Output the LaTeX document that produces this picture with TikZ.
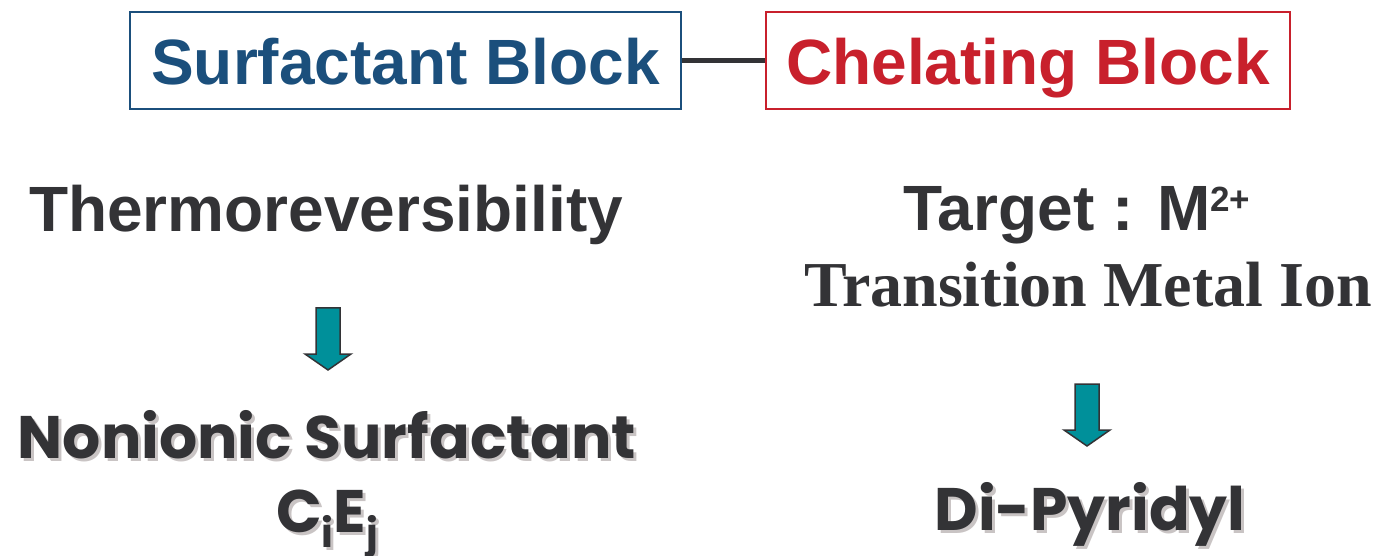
\documentclass[tikz,border=0pt]{standalone}
\usepackage{fontspec}
\setmainfont{Liberation Sans}
\newfontfamily\timesb{Liberation Serif}
\newfontfamily\comic{Poppins}
\usetikzlibrary{calc}
\definecolor{sbblue}{HTML}{1B4F7C}
\definecolor{cbred}{HTML}{C8202C}
\definecolor{dtext}{HTML}{333336}
\definecolor{tealfill}{HTML}{00909A}
\definecolor{shad}{HTML}{C9C4C4}
\newcommand{\shadowed}[1]{\makebox[0pt][l]{\kern3pt\raisebox{-3pt}{\textcolor{shad}{#1}}}#1}
\tikzset{
  blockbox/.style={draw, line width=1.5pt, minimum height=97pt, inner sep=0pt, text height=60pt, text depth=11pt, font=\fontsize{64}{66}\selectfont\bfseries},
  headtxt/.style={text=dtext, inner sep=0pt, font=\fontsize{64}{66}\selectfont\bfseries},
  serhead/.style={text=dtext, inner sep=0pt, font=\fontsize{64}{66}\selectfont\timesb\bfseries},
  comictxt/.style={text=dtext, inner sep=0pt, font=\fontsize{60}{62}\selectfont\comic\bfseries},
  fatarrow/.style={fill=tealfill, draw=dtext, line width=1.5pt, line join=miter}
}
\newcommand{\fatdown}[1]{%
  \draw[fatarrow] ($(#1)+(-12,0)$) -- ($(#1)+(12,0)$) -- ($(#1)+(12,46)$) -- ($(#1)+(23,46)$)
    -- ($(#1)+(0,62)$) -- ($(#1)+(-23,46)$) -- ($(#1)+(-12,46)$) -- cycle;}
\newcommand{\subdown}[1]{\raisebox{-15pt}{\fontsize{40}{42}\selectfont #1}}
\begin{document}
\begin{tikzpicture}[x=1pt,y=-1pt]
\useasboundingbox (0,0) rectangle (1377,556);
\node[blockbox, draw=sbblue, text=sbblue, minimum width=551pt] (sb) at (405.5,60.5) {Surfactant Block};
\node[blockbox, draw=cbred, text=cbred, minimum width=524pt] (cb) at (1028,60.5) {Chelating Block};
\draw[dtext, line width=5pt] (sb.east) -- (cb.west);
\node[headtxt, anchor=base] (thermo) at (326,232) {Thermoreversibility};
\node[headtxt, anchor=base] (target) at (1077,231) {Target : M\raisebox{19pt}{\fontsize{35}{37}\selectfont 2+}};
\node[serhead, anchor=base] (trans) at (1088,307) {Transition Metal Ion};
\coordinate (a1) at (328,308);
\coordinate (a2) at (1087,384);
\fatdown{a1}
\fatdown{a2}
\node[comictxt, anchor=base] (nonionic) at (327,458) {\shadowed{Nonionic Surfactant}};
\node[comictxt, anchor=base] (cie) at (327,532) {\shadowed{C\subdown{i}E\subdown{j}}};
\node[comictxt, anchor=base] (dip) at (1090,530) {\shadowed{Di-Pyridyl}};
\end{tikzpicture}
\end{document}
